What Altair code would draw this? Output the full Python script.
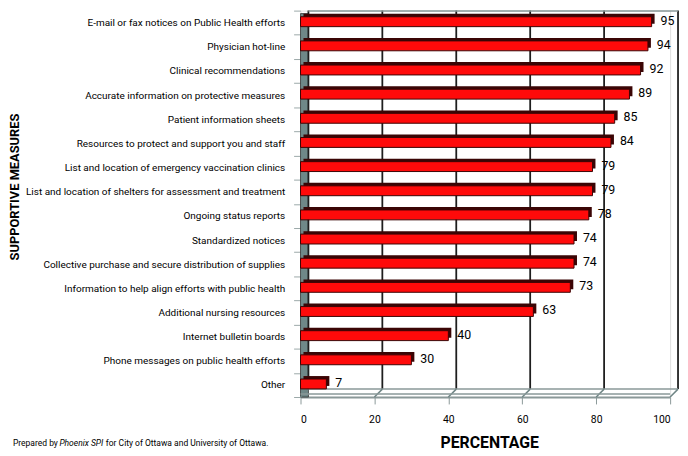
import altair as alt
import pandas as pd

categories = [
    "E-mail or fax notices on Public Health efforts",
    "Physician hot-line",
    "Clinical recommendations",
    "Accurate information on protective measures",
    "Patient information sheets",
    "Resources to protect and support you and staff",
    "List and location of emergency vaccination clinics",
    "List and location of shelters for assessment and treatment",
    "Ongoing status reports",
    "Standardized notices",
    "Collective purchase and secure distribution of supplies",
    "Information to help align efforts with public health",
    "Additional nursing resources",
    "Internet bulletin boards",
    "Phone messages on public health efforts",
    "Other",
]
values = [95, 94, 92, 89, 85, 84, 79, 79, 78, 74, 74, 73, 63, 40, 30, 7]
tick_values = [0, 20, 40, 60, 80, 100]

FONT = "Roboto"
W, H = 374, 391
DEPTH = 8

df = pd.DataFrame({"measure": categories, "pct": values})
grid_df = pd.DataFrame({"v": tick_values})
one = pd.DataFrame({"a": [0]})

xscale = alt.Scale(domain=[0, 100], nice=False, zero=True)
yscale = alt.Scale(domain=categories, paddingInner=0, paddingOuter=0)

x_axis = alt.Axis(
    values=tick_values, grid=False, domain=True, domainColor="#8a9898",
    domainWidth=2, tickColor="#8a9898", tickSize=7, labelFont=FONT,
    labelFontSize=10.5, labelColor="#000", labelPadding=11,
    title="PERCENTAGE", titleFont=FONT, titleFontSize=16, titleFontWeight="bold",
    titleColor="#000", titleX=191, titleY=46, titleBaseline="middle",
)
y_axis = alt.Axis(
    tickBand="extent", domain=False, tickColor="#9aa8a8", tickSize=7,
    labelFont=FONT, labelFontSize=10.1, labelColor="#000", labelPadding=9,
    labelLimit=400,
    title="SUPPORTIVE  MEASURES", titleFont=FONT, titleFontSize=13,
    titleFontWeight="bold", titleColor="#000", titleX=-289, titleY=178,
    titleBaseline="middle", titleAngle=-90,
)

# back wall gridlines
grid = alt.Chart(grid_df).mark_rule(color="#1e1e1e", strokeWidth=1.8, xOffset=DEPTH).encode(
    x=alt.X("v:Q", scale=xscale, axis=x_axis),
    y=alt.value(0), y2=alt.value(H - DEPTH),
)
# floor slanted lines
floor_slants = alt.Chart(grid_df).mark_rule(color="#6f8585", strokeWidth=1.5, x2Offset=DEPTH).encode(
    x=alt.X("v:Q", scale=xscale), x2="v:Q",
    y=alt.value(H), y2=alt.value(H - DEPTH),
)
floor_back = alt.Chart(one).mark_rule(color="#8a9898", strokeWidth=1.5).encode(
    x=alt.value(DEPTH), x2=alt.value(W + DEPTH), y=alt.value(H - DEPTH),
)
floor_front = alt.Chart(one).mark_rule(color="#8a9898", strokeWidth=1.5).encode(
    x=alt.value(0), x2=alt.value(W), y=alt.value(H - 3),
)
wall_top = alt.Chart(one).mark_rule(color="#8a9898", strokeWidth=1.5).encode(
    x=alt.value(DEPTH), x2=alt.value(W + DEPTH), y=alt.value(0.5),
)
left_wall = alt.Chart(one).mark_rect(color="#6f8888", stroke="#333", strokeWidth=0.8).encode(
    x=alt.value(0), x2=alt.value(DEPTH), y=alt.value(3), y2=alt.value(H),
)

shadow = alt.Chart(df).mark_bar(color="#3a0505", size=10, xOffset=3, yOffset=-4).encode(
    x=alt.X("pct:Q", scale=xscale),
    y=alt.Y("measure:N", scale=yscale, sort=categories, axis=y_axis),
)
bars = alt.Chart(df).mark_bar(color="#ff0a0a", stroke="#3a0505", strokeWidth=1, size=10, yOffset=-1).encode(
    x=alt.X("pct:Q", scale=xscale),
    y=alt.Y("measure:N", scale=yscale, sort=categories),
)
labels = alt.Chart(df).mark_text(align="left", baseline="middle", dx=9, yOffset=-2,
                                 font=FONT, fontSize=12.5, color="#000").encode(
    x=alt.X("pct:Q", scale=xscale),
    y=alt.Y("measure:N", scale=yscale, sort=categories),
    text="pct:Q",
)

foot1 = alt.Chart(one).mark_text(align="left", baseline="middle", font=FONT, fontSize=8.6, color="#000").encode(
    x=alt.value(-291), y=alt.value(438), text=alt.value("Prepared by"))
foot2 = alt.Chart(one).mark_text(align="left", baseline="middle", font=FONT, fontSize=8.6, fontStyle="italic", color="#000").encode(
    x=alt.value(-244), y=alt.value(438), text=alt.value("Phoenix SPI"))
foot3 = alt.Chart(one).mark_text(align="left", baseline="middle", font=FONT, fontSize=8.6, color="#000").encode(
    x=alt.value(-197), y=alt.value(438), text=alt.value("for City of Ottawa and University of Ottawa."))

chart = alt.layer(
    left_wall, grid, floor_back, floor_slants, floor_front, wall_top,
    shadow, bars, labels, foot1, foot2, foot3,
).properties(
    width=W, height=H,
    autosize=alt.AutoSizeParams(type="none"),
    padding={"left": 296, "top": 0, "right": 10, "bottom": 54},
).configure_view(stroke=None).configure(background="white")

chart.save("out.html", embed_options={"renderer": "svg", "actions": False})
